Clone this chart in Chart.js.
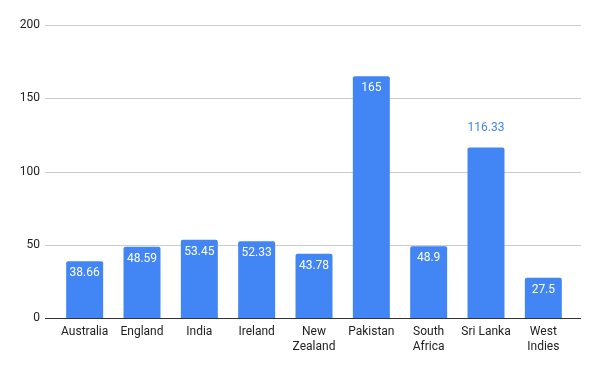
<!DOCTYPE html>
<html>
<head>
<meta charset="utf-8">
<script src="https://cdn.jsdelivr.net/npm/chart.js@4"></script>
<style>
  html, body { margin: 0; padding: 0; background: #fff; }
  #wrap { width: 600px; height: 371px; }
</style>
</head>
<body>
<div id="wrap"><canvas id="chart"></canvas></div>
<script>
const categories = ['Australia', 'England', 'India', 'Ireland', ['New', 'Zealand'], 'Pakistan', ['South', 'Africa'], 'Sri Lanka', ['West', 'Indies']];
const values = [38.66, 48.59, 53.45, 52.33, 43.78, 165, 48.9, 116.33, 27.5];
const labelText = ['38.66', '48.59', '53.45', '52.33', '43.78', '165', '48.9', '116.33', '27.5'];
const outsideLabels = [false, false, false, false, false, false, false, true, false];
const yTicks = [0, 50, 100, 150, 200];

const barBlue = '#4285f4';
const font = { family: 'Roboto', size: 12 };

// gridlines go wider than the bar area, so draw them ourselves
const gridPlugin = {
    id: 'grid',
    beforeDatasetsDraw(chart) {
        let ctx = chart.ctx;
        let y = chart.scales.y;
        ctx.save();
        for (let t of yTicks) {
            let py = Math.round(y.getPixelForValue(t)) + 0.5;
            ctx.strokeStyle = t == 0 ? '#333333' : '#cccccc';
            ctx.lineWidth = 1;
            ctx.beginPath();
            ctx.moveTo(45, py);
            ctx.lineTo(581, py);
            ctx.stroke();
        }
        ctx.restore();
    }
};

const labelPlugin = {
    id: 'barLabels',
    afterDatasetsDraw(chart) {
        let ctx = chart.ctx;
        let meta = chart.getDatasetMeta(0);
        ctx.save();
        ctx.font = '12px Roboto';
        ctx.textAlign = 'center';
        ctx.textBaseline = 'middle';
        meta.data.forEach((bar, i) => {
            if (outsideLabels[i]) {
                ctx.fillStyle = '#4285f4';
                ctx.fillText(labelText[i], bar.x, bar.y - 20);
            } else {
                ctx.fillStyle = '#ffffff';
                ctx.fillText(labelText[i], bar.x, bar.y + 12);
            }
        });
        ctx.restore();
    }
};

new Chart(document.getElementById('chart'), {
    type: 'bar',
    data: {
        labels: categories,
        datasets: [{
            data: values,
            backgroundColor: barBlue,
            borderRadius: { topLeft: 2, topRight: 2 },
            borderSkipped: 'bottom',
            categoryPercentage: 1,
            barPercentage: 0.645
        }]
    },
    options: {
        responsive: true,
        maintainAspectRatio: false,
        animation: false,
        layout: { padding: { top: 25, right: 28, left: 0, bottom: 0 } },
        plugins: {
            legend: { display: false },
            tooltip: { enabled: false }
        },
        scales: {
            x: {
                grid: { display: false, drawTicks: false },
                border: { display: false },
                ticks: { color: '#222222', font: font, padding: 7, maxRotation: 0, autoSkip: false },
                afterFit: s => { s.height = 53; }
            },
            y: {
                min: 0,
                max: 200,
                grid: { display: false, drawTicks: false },
                border: { display: false },
                ticks: { stepSize: 50, color: '#222222', font: font, padding: 16 },
                afterFit: s => { s.width = 56; }
            }
        }
    },
    plugins: [gridPlugin, labelPlugin]
});
</script>
</body>
</html>
